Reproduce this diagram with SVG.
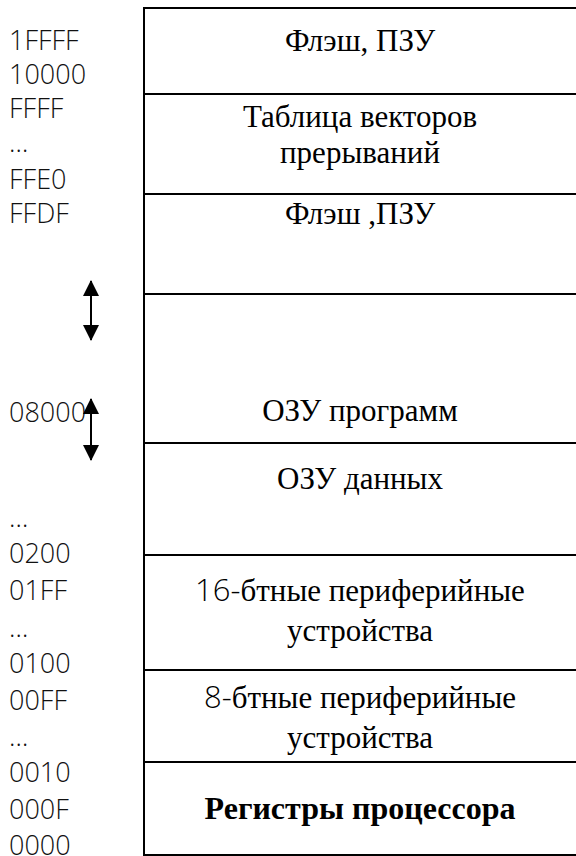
<svg xmlns="http://www.w3.org/2000/svg" width="576" height="856" viewBox="0 0 576 856">
<style>
.addr{font-family:"Open Sans","Lato","Roboto",sans-serif;font-weight:300;font-size:27px;fill:#111}
.lbl{font-family:"Liberation Serif","Tinos","DejaVu Serif",serif;font-size:31px;fill:#000;text-anchor:middle}
.num{font-family:"Open Sans","Lato","Roboto",sans-serif;font-weight:300}
.bold{font-weight:bold;font-size:32px}
.sep{stroke:#000;stroke-width:2}
.conn{stroke:#000;stroke-width:2;fill:none}
</style>
<defs>
<marker id="ah" viewBox="0 0 16 16" refX="15" refY="8" markerWidth="16" markerHeight="16" markerUnits="userSpaceOnUse" orient="auto-start-reverse">
<path d="M0,0 L16,8 L0,16 Z" fill="#000"/>
</marker>
</defs>
<rect width="576" height="856" fill="#fff"/>
<g id="addresses">
<text class="addr" x="9" y="50">1FFFF</text>
<text class="addr" x="9" y="84">10000</text>
<text class="addr" x="9" y="118">FFFF</text>
<text class="addr" x="9" y="152">…</text>
<text class="addr" x="9" y="189">FFE0</text>
<text class="addr" x="9" y="223">FFDF</text>
<text class="addr" x="9" y="422">08000</text>
<text class="addr" x="9" y="527">…</text>
<text class="addr" x="9" y="563">0200</text>
<text class="addr" x="9" y="600">01FF</text>
<text class="addr" x="9" y="637">…</text>
<text class="addr" x="9" y="673">0100</text>
<text class="addr" x="9" y="710">00FF</text>
<text class="addr" x="9" y="746">…</text>
<text class="addr" x="9" y="782">0010</text>
<text class="addr" x="9" y="819">000F</text>
<text class="addr" x="9" y="855">0000</text>
</g>
<g id="memory-frame">
<path class="sep" d="M144,8 H576 M144,7 V856 M144,855 H576"/>
</g>
<g id="flash-top">
<line class="sep" x1="144" y1="94" x2="576" y2="94"/>
<text class="lbl" x="360" y="51">Флэш, ПЗУ</text>
</g>
<g id="vector-table">
<line class="sep" x1="144" y1="194" x2="576" y2="194"/>
<text class="lbl" x="360" y="127">Таблица векторов</text>
<text class="lbl" x="360" y="163">прерываний</text>
</g>
<g id="flash-low">
<line class="sep" x1="144" y1="294" x2="576" y2="294"/>
<text class="lbl" x="360" y="224">Флэш ,ПЗУ</text>
</g>
<g id="ram-program">
<line class="sep" x1="144" y1="443" x2="576" y2="443"/>
<text class="lbl" x="360" y="421">ОЗУ программ</text>
</g>
<g id="ram-data">
<line class="sep" x1="144" y1="555" x2="576" y2="555"/>
<text class="lbl" x="360" y="489">ОЗУ данных</text>
</g>
<g id="periph16">
<line class="sep" x1="144" y1="670" x2="576" y2="670"/>
<text class="lbl" x="360" y="601"><tspan class="num">16-</tspan>бтные периферийные</text>
<text class="lbl" x="360" y="641">устройства</text>
</g>
<g id="periph8">
<line class="sep" x1="144" y1="762" x2="576" y2="762"/>
<text class="lbl" x="360" y="708"><tspan class="num">8-</tspan>бтные периферийные</text>
<text class="lbl" x="360" y="748">устройства</text>
</g>
<g id="registers">
<text class="lbl bold" x="360" y="819">Регистры процессора</text>
</g>
<g id="connectors">
<line class="conn" x1="91" y1="281" x2="91" y2="340" marker-start="url(#ah)" marker-end="url(#ah)"/>
<line class="conn" x1="91" y1="399" x2="91" y2="460" marker-start="url(#ah)" marker-end="url(#ah)"/>
</g>
</svg>
